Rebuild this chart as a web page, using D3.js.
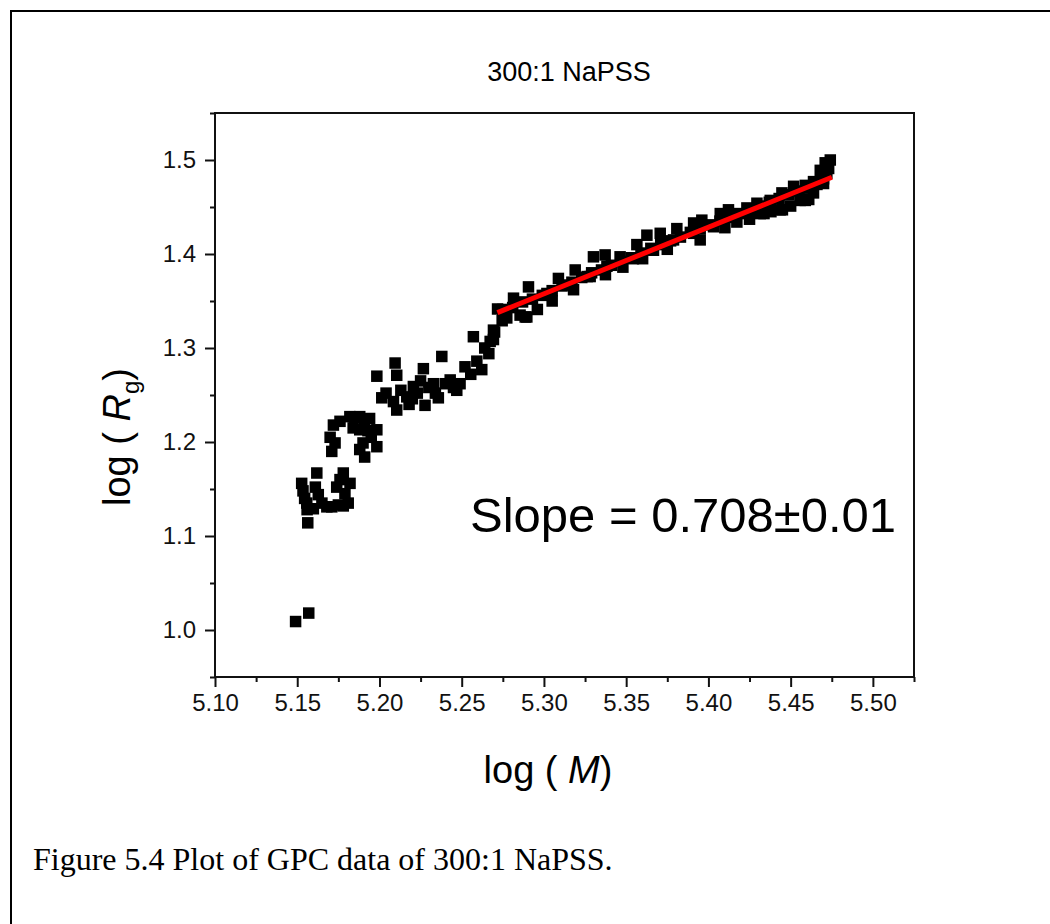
<!DOCTYPE html>
<html>
<head>
<meta charset="utf-8">
<script src="https://cdn.jsdelivr.net/npm/d3@7"></script>
<style>
  html, body { margin: 0; padding: 0; background: #fff; }
  svg { display: block; }
</style>
</head>
<body>
<svg id="fig" width="1050" height="924"></svg>
<script>
// GPC data for 300:1 NaPSS: log(M) vs log(Rg)
const logM = [
  5.149, 5.157,
  5.1527, 5.1535, 5.1545, 5.1558, 5.1564, 5.1560, 5.1598, 5.1619, 5.1628, 5.1610, 5.1650,
  5.1680, 5.1710, 5.1750, 5.1780, 5.1810, 5.1821, 5.1780, 5.1740, 5.1790, 5.1760,
  5.1700, 5.1710, 5.1730, 5.1720, 5.1760, 5.1820, 5.1850, 5.1880, 5.1910, 5.1940,
  5.1984, 5.1880, 5.1900, 5.1880, 5.1910, 5.1984, 5.1950, 5.1840, 5.1930,
  5.1984, 5.2014, 5.2040, 5.2085, 5.2095, 5.2105, 5.2105, 5.2130, 5.2166, 5.2180,
  5.2206, 5.2230, 5.2267, 5.2277, 5.2250, 5.2300, 5.2328, 5.2358, 5.2379, 5.2400,
  5.2430, 5.2450, 5.2470, 5.2490, 5.2520, 5.2555, 5.2592, 5.2622, 5.2571, 5.2640,
  5.2665, 5.2693, 5.2700,
  5.2693, 5.2673, 5.2774, 5.2855, 5.2896, 5.3018, 5.3149, 5.3281, 5.3383, 5.3544,
  5.3666, 5.3788, 5.3910, 5.4031, 5.4173, 5.4315, 5.4436, 5.4558, 5.4639, 5.4700,
  5.2815, 5.2906, 5.3088, 5.3190, 5.3301, 5.3372, 5.3463, 5.3565, 5.3626, 5.3707,
  5.3808, 5.3910, 5.3960, 5.4072, 5.4122, 5.4234, 5.4295, 5.4376, 5.4447, 5.4518,
  5.4589, 5.4639, 5.4680, 5.4710, 5.4741, 5.4731,
  5.3374, 5.3263, 5.4589, 5.4450, 5.4338, 5.2886, 5.2746, 5.2718,
  5.4500, 5.4610, 5.4380, 5.4250, 5.4100,
  5.3180, 5.3480, 5.3600, 5.3750, 5.3950, 5.3050, 5.2960, 5.2340, 5.2200,
  5.275, 5.281, 5.287, 5.293, 5.299, 5.305, 5.311, 5.317, 5.323, 5.329,
  5.335, 5.341, 5.347, 5.353, 5.359, 5.365, 5.371, 5.377, 5.383, 5.389,
  5.395, 5.401, 5.407, 5.413, 5.419, 5.425, 5.431, 5.437, 5.443, 5.449,
  5.455, 5.461, 5.466, 5.470, 5.472
];
const logRg = [
  1.009, 1.018,
  1.156, 1.148, 1.140, 1.135, 1.114, 1.128, 1.129, 1.167, 1.144, 1.152, 1.135,
  1.131, 1.131, 1.133, 1.132, 1.135, 1.156, 1.167, 1.152, 1.145, 1.160,
  1.205, 1.190, 1.199, 1.218, 1.222, 1.227, 1.226, 1.227, 1.224, 1.225,
  1.213, 1.213, 1.199, 1.192, 1.184, 1.195, 1.205, 1.215, 1.212,
  1.270, 1.247, 1.252, 1.243, 1.284, 1.271, 1.234, 1.255, 1.248, 1.240,
  1.259, 1.252, 1.278, 1.239, 1.265, 1.258, 1.262, 1.247, 1.291, 1.262,
  1.266, 1.258, 1.255, 1.262, 1.280, 1.272, 1.286, 1.277, 1.312, 1.300,
  1.294, 1.309, 1.317,
  1.319, 1.307, 1.332, 1.335, 1.333, 1.358, 1.367, 1.376, 1.387, 1.395,
  1.404, 1.415, 1.422, 1.429, 1.434, 1.443, 1.447, 1.457, 1.465, 1.475,
  1.353, 1.365, 1.374, 1.383, 1.397, 1.399, 1.397, 1.410, 1.420, 1.422,
  1.427, 1.433, 1.436, 1.443, 1.447, 1.449, 1.454, 1.457, 1.465, 1.472,
  1.473, 1.477, 1.489, 1.497, 1.500, 1.491,
  1.378, 1.376, 1.457, 1.447, 1.443, 1.333, 1.329, 1.3415,
  1.451, 1.458, 1.445, 1.437, 1.428,
  1.362, 1.386, 1.395, 1.405, 1.415, 1.350, 1.341, 1.252, 1.246,
  1.341, 1.343, 1.349, 1.352, 1.356, 1.361, 1.366, 1.370, 1.375, 1.380,
  1.383, 1.388, 1.392, 1.396, 1.401, 1.406, 1.410, 1.414, 1.418, 1.423,
  1.427, 1.431, 1.435, 1.439, 1.443, 1.447, 1.451, 1.455, 1.459, 1.463,
  1.467, 1.470, 1.474, 1.480, 1.486
];

// linear fit over the upper range
const fitSlope = 0.708;
const fitStart = [5.2717, 1.3376];
const fitEndX = 5.4751;

const xTicks = [5.10, 5.15, 5.20, 5.25, 5.30, 5.35, 5.40, 5.45, 5.50];
const xMinor = [5.125, 5.175, 5.225, 5.275, 5.325, 5.375, 5.425, 5.475, 5.525];
const yTicks = [1.0, 1.1, 1.2, 1.3, 1.4, 1.5];
const yMinor = [0.95, 1.05, 1.15, 1.25, 1.35, 1.45, 1.55];

const svg = d3.select("#fig");
const sans = "'Liberation Sans', Arial, sans-serif";

// page border (top and left edges)
svg.append("path")
  .attr("d", "M11,1000 L11,11 L1060,11")
  .attr("fill", "none").attr("stroke", "#000").attr("stroke-width", 2);

const L = 215, R = 914, T = 113, B = 677;
const x = d3.scaleLinear().domain([5.10, 5.525]).range([L, R]);
const y = d3.scaleLinear().domain([0.95, 1.55]).range([B, T]);

// title
svg.append("text")
  .attr("x", 569).attr("y", 81)
  .attr("text-anchor", "middle")
  .attr("font-family", sans).attr("font-size", 27)
  .text("300:1 NaPSS");

// axes
const gx = svg.append("g").attr("transform", `translate(0,${B})`)
  .call(d3.axisBottom(x).tickValues(xTicks).tickSize(10).tickPadding(7)
        .tickFormat(d3.format(".2f")));
const gxm = svg.append("g").attr("transform", `translate(0,${B})`)
  .call(d3.axisBottom(x).tickValues(xMinor).tickSize(5).tickFormat(""));
const gy = svg.append("g").attr("transform", `translate(${L},0)`)
  .call(d3.axisLeft(y).tickValues(yTicks).tickSize(10).tickPadding(9)
        .tickFormat(d3.format(".1f")));
const gym = svg.append("g").attr("transform", `translate(${L},0)`)
  .call(d3.axisLeft(y).tickValues(yMinor).tickSize(5).tickFormat(""));

[gx, gxm, gy, gym].forEach(g => {
  g.select(".domain").remove();
  g.selectAll(".tick line").attr("stroke", "#111").attr("stroke-width", 2);
  g.selectAll(".tick text").attr("font-family", sans).attr("font-size", 24).attr("fill", "#111");
});

// plot frame
svg.append("rect")
  .attr("x", L).attr("y", T).attr("width", R - L).attr("height", B - T)
  .attr("fill", "none").attr("stroke", "#111").attr("stroke-width", 2);

// data points
const pts = logM.map((m, i) => [m, logRg[i]]);
const s = 11.5;
svg.append("g").selectAll("rect").data(pts).join("rect")
  .attr("x", d => x(d[0]) - s / 2)
  .attr("y", d => y(d[1]) - s / 2)
  .attr("width", s).attr("height", s)
  .attr("fill", "#000");

// fit line
const fitEnd = [fitEndX, fitStart[1] + fitSlope * (fitEndX - fitStart[0])];
svg.append("line")
  .attr("x1", x(fitStart[0])).attr("y1", y(fitStart[1]))
  .attr("x2", x(fitEnd[0])).attr("y2", y(fitEnd[1]))
  .attr("stroke", "#ff0000").attr("stroke-width", 5);

// slope annotation
svg.append("text")
  .attr("x", 470).attr("y", 532)
  .attr("font-family", sans).attr("font-size", 49)
  .text("Slope = 0.708\u00b10.01");

// axis titles
const xt = svg.append("text")
  .attr("x", 548).attr("y", 783)
  .attr("text-anchor", "middle")
  .attr("font-family", sans).attr("font-size", 38);
xt.append("tspan").text("log ( ");
xt.append("tspan").attr("font-style", "italic").text("M");
xt.append("tspan").text(")");

const yt = svg.append("text")
  .attr("transform", "translate(130,437) rotate(-90)")
  .attr("text-anchor", "middle")
  .attr("font-family", sans).attr("font-size", 38);
yt.append("tspan").text("log ( ");
yt.append("tspan").attr("font-style", "italic").text("R");
yt.append("tspan").attr("font-size", 24).attr("dy", 9).text("g");
yt.append("tspan").attr("dy", -9).text(")");

// caption
svg.append("text")
  .attr("x", 33).attr("y", 870)
  .attr("font-family", "'Liberation Serif', 'Times New Roman', serif")
  .attr("font-size", 32)
  .text("Figure 5.4 Plot of GPC data of 300:1 NaPSS.");
</script>
</body>
</html>
